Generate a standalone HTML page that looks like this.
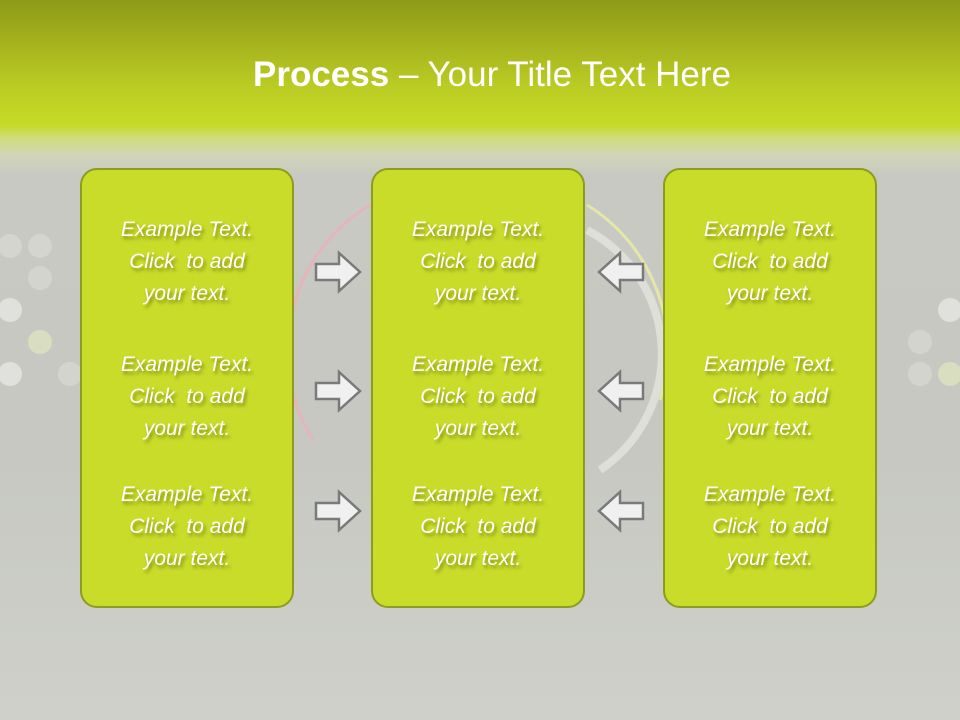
<!DOCTYPE html>
<html><head><style>
html,body{margin:0;padding:0}
body{width:960px;height:720px;position:relative;overflow:hidden;
background:linear-gradient(#8d9a17 0px,#a4b01d 40px,#bcce24 90px,#c6da26 125px,#d0dc7a 138px,#d2d6b8 155px,#c8c9c2 175px,#c7c8c2 450px,#cfd0ca 720px);
font-family:"Liberation Sans",sans-serif}
.title{position:absolute;left:0;top:52px;width:984px;text-align:center;color:#fff;font-size:35px;line-height:46px}
.title b{font-weight:bold}
.box{position:absolute;top:168px;width:214px;height:440px;background:#cadc2a;border:2px solid #8c9c1e;border-radius:17px;box-sizing:border-box}
.t{position:absolute;width:100%;text-align:center;color:#fff;font-style:italic;font-size:21px;line-height:32px;text-shadow:2px 3px 3px rgba(70,80,0,.55)}
svg{position:absolute;left:0;top:0}
</style></head><body>
<svg width="960" height="720">
<g fill="#dcddd6" opacity="0.6">
<circle cx="10" cy="310" r="12" fill="#f2f2ee"/><circle cx="40" cy="342" r="12" fill="#e6eec0"/><circle cx="10" cy="374" r="12" fill="#f2f2ee"/>
<circle cx="40" cy="246" r="12"/><circle cx="10" cy="246" r="12"/><circle cx="40" cy="278" r="12"/><circle cx="70" cy="374" r="12"/>
<circle cx="950" cy="310" r="12" fill="#f2f2ee"/><circle cx="920" cy="342" r="12"/><circle cx="950" cy="374" r="12" fill="#e6eec0"/><circle cx="920" cy="374" r="12"/>
</g>
<path d="M313 440 A170 170 0 0 1 370 205" fill="none" stroke="#e8b4bc" stroke-width="3"/>
<path d="M587 205 A170 170 0 0 1 660 400" fill="none" stroke="#e6e6a6" stroke-width="3"/>
<path d="M587 230 A140 140 0 0 1 600 470" fill="none" stroke="#dedfd8" stroke-width="8"/>
<g fill="#f0f0f0" stroke="#7a7a7a" stroke-width="2.5">
<path d="M316 264 H339 V253 L360 272 L339 291 V280 H316 Z"/>
<path d="M316 383 H339 V372 L360 391 L339 410 V399 H316 Z"/>
<path d="M316 503 H339 V492 L360 511 L339 530 V519 H316 Z"/>
<path d="M643 264 H620 V253 L599 272 L620 291 V280 H643 Z"/>
<path d="M643 383 H620 V372 L599 391 L620 410 V399 H643 Z"/>
<path d="M643 503 H620 V492 L599 511 L620 530 V519 H643 Z"/>
</g>
</svg>
<div class="title"><b>Process</b> – Your Title Text Here</div>
<div class="box" style="left:80px"><div class="t" style="top:44px">Example Text.<br>Click&nbsp; to add<br>your text.</div><div class="t" style="top:179px">Example Text.<br>Click&nbsp; to add<br>your text.</div><div class="t" style="top:309px">Example Text.<br>Click&nbsp; to add<br>your text.</div></div>
<div class="box" style="left:371px"><div class="t" style="top:44px">Example Text.<br>Click&nbsp; to add<br>your text.</div><div class="t" style="top:179px">Example Text.<br>Click&nbsp; to add<br>your text.</div><div class="t" style="top:309px">Example Text.<br>Click&nbsp; to add<br>your text.</div></div>
<div class="box" style="left:663px"><div class="t" style="top:44px">Example Text.<br>Click&nbsp; to add<br>your text.</div><div class="t" style="top:179px">Example Text.<br>Click&nbsp; to add<br>your text.</div><div class="t" style="top:309px">Example Text.<br>Click&nbsp; to add<br>your text.</div></div>
</body></html>
